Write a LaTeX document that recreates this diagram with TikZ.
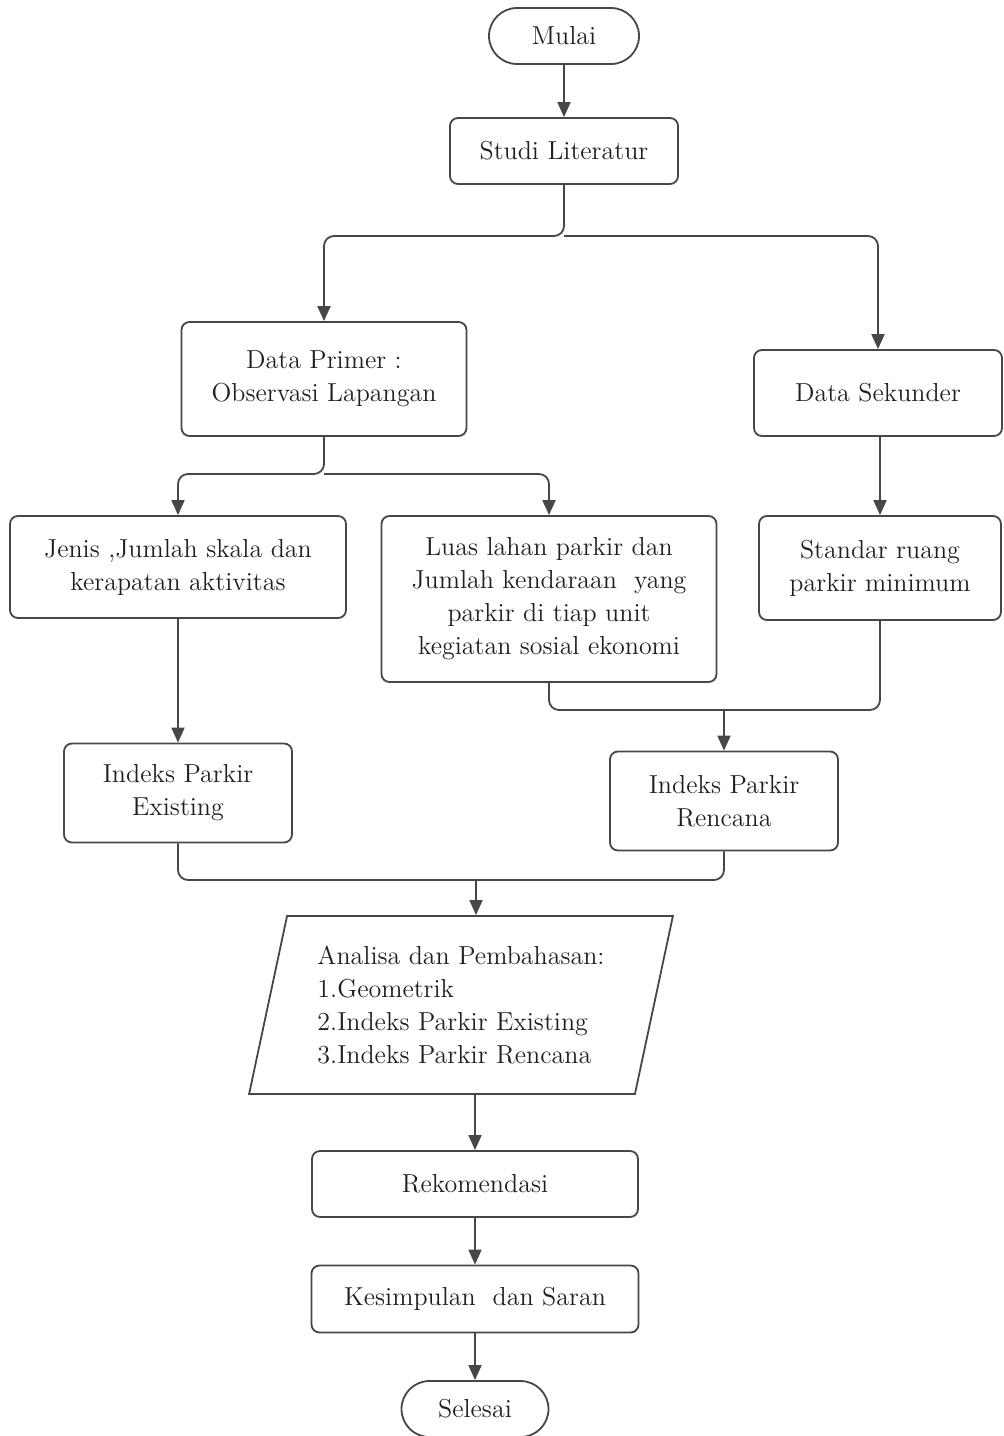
\documentclass[tikz,border=0pt]{standalone}
\usetikzlibrary{arrows.meta,shapes.geometric}
\begin{document}
\begin{tikzpicture}[x=0.5pt,y=-0.5pt,>={Triangle[length=7.5pt,width=6.5pt]},line width=0.9pt,color=black!72,
  box/.style={draw,rounded corners=4pt,align=center,text=black!88,font=\fontsize{13}{16.5}\selectfont},
  term/.style={box,rounded corners=14pt},
  link/.style={rounded corners=5pt}]
\useasboundingbox (0,0) rectangle (1003,1436);

\node[term,minimum width=75pt,minimum height=28pt] (mulai) at (564,36) {Mulai};
\node[box,minimum width=114pt,minimum height=33pt] (studi) at (564,151) {Studi Literatur};

\node[box,minimum width=142.5pt,minimum height=57pt] (primer) at (324,379) {Data Primer :\\Observasi Lapangan};
\node[box,minimum width=124pt,minimum height=43pt] (sekunder) at (878,393) {Data Sekunder};

\node[box,minimum width=168pt,minimum height=51pt] (jenis) at (178,567) {Jenis ,Jumlah skala dan\\kerapatan aktivitas};
\node[box,minimum width=167.5pt,minimum height=83pt] (luas) at (549,599) {Luas lahan parkir dan\\Jumlah kendaraan~ yang\\parkir di tiap unit\\kegiatan sosial ekonomi};
\node[box,minimum width=121pt,minimum height=52pt] (standar) at (880,568) {Standar ruang\\parkir minimum};

\node[box,minimum width=114pt,minimum height=49.5pt] (existing) at (178,793) {Indeks Parkir\\Existing};
\node[box,minimum width=114pt,minimum height=49.5pt] (rencana) at (724,801) {Indeks Parkir\\Rencana};

\node[draw,shape=trapezium,trapezium left angle=76,trapezium right angle=104,trapezium stretches=true,
  minimum width=212pt,minimum height=89pt,align=left,text=black!88,font=\fontsize{13}{16.5}\selectfont] (analisa) at (461,1005)
  {Analisa dan Pembahasan:\\1.Geometrik\\2.Indeks Parkir Existing\\3.Indeks Parkir Rencana};

\node[box,minimum width=163pt,minimum height=33pt] (rekom) at (475,1184) {Rekomendasi};
\node[box,minimum width=163.5pt,minimum height=33.5pt] (simpul) at (475,1299) {Kesimpulan~ dan Saran};
\node[term,minimum width=73.5pt,minimum height=28pt] (selesai) at (475,1409) {Selesai};

% cabang dan pertemuan
\coordinate (c1) at (564,236);
\coordinate (c2) at (324,474);
\coordinate (c3) at (724,710);
\coordinate (c4) at (476,880);

\draw[->] (mulai) -- (studi);
\draw[link,->] (studi) -- (c1) -| (primer);
\draw[link,->] (c1) -| (sekunder);

\draw[link,->] (primer) -- (c2) -| (jenis);
\draw[link,->] (c2) -| (luas);
\draw[->] (sekunder.south -| standar) -- (standar);

\draw[->] (jenis) -- (existing);
\draw[link] (luas) |- (c3);
\draw[link] (standar) |- (c3);
\draw[->] (c3) -- (rencana);

\draw[link] (existing) |- (c4);
\draw[link] (rencana) |- (c4);
\draw[->] (c4) -- (c4 |- analisa.north);

\draw[->] (rekom.north |- analisa.south) -- (rekom);
\draw[->] (rekom) -- (simpul);
\draw[->] (simpul) -- (selesai);
\end{tikzpicture}
\end{document}
